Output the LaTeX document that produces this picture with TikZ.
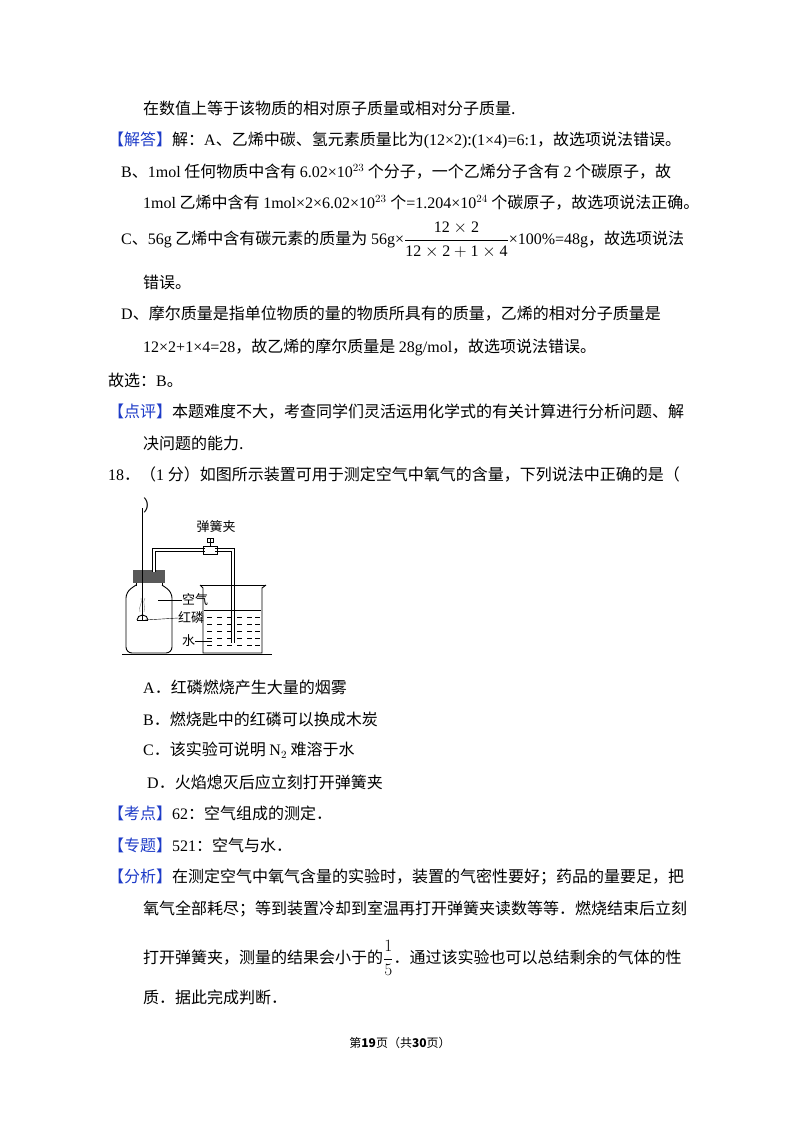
\documentclass[tikz,border=0pt]{standalone}
\usepackage{fontspec}
\setmainfont{Liberation Serif}
\newfontfamily\cjk{Noto Sans CJK SC}
\definecolor{kblue}{RGB}{30,60,200}
\begin{document}
\begin{tikzpicture}[x=1pt,y=-1pt,
  txt/.style={anchor=west,inner sep=0pt,font=\cjk\fontsize{16}{18}\selectfont},
  lbl/.style={inner sep=0pt,font=\cjk\fontsize{13}{15}\selectfont},
  ln/.style={line width=0.9pt}]
\useasboundingbox[fill=white] (0,0) rectangle (800,1132);
\newcommand\kb[1]{\textcolor{kblue}{【#1】}}
\newcommand\lat[1]{{\fontspec{Liberation Serif}#1}}
\node[txt] (l1) at (143,108) {在数值上等于该物质的相对原子质量或相对分子质量.};
\node[txt] (l2) at (108,140) {\kb{解答}解：\lat{A}、乙烯中碳、氢元素质量比为\lat{(12×2)}:\lat{(1×4)=6:1}，故选项说法错误。};
\node[txt] (l3) at (121,172) {\lat{B}、\lat{1mol} 任何物质中含有 \lat{6.02×10$^{23}$} 个分子，一个乙烯分子含有 \lat{2} 个碳原子，故};
\node[txt] (l4) at (143,203) {\lat{1mol} 乙烯中含有 \lat{1mol×2×6.02×10$^{23}$} 个\lat{=1.204×10$^{24}$} 个碳原子，故选项说法正确。};
\node[txt] (l5) at (121,240) {\lat{C}、\lat{56g} 乙烯中含有碳元素的质量为 \lat{56g×}$\displaystyle\frac{\mathrm{12\times 2}}{\mathrm{12\times 2+1\times 4}}$\lat{×100\%=48g}，故选项说法};
\node[txt] (l6) at (143,282) {错误。};
\node[txt] (l7) at (121,314) {\lat{D}、摩尔质量是指单位物质的量的物质所具有的质量，乙烯的相对分子质量是};
\node[txt] (l8) at (143,347) {\lat{12×2+1×4=28}，故乙烯的摩尔质量是 \lat{28g/mol}，故选项说法错误。};
\node[txt] (l9) at (108,380) {故选：\lat{B}。};
\node[txt] (l10) at (108,412) {\kb{点评}本题难度不大，考查同学们灵活运用化学式的有关计算进行分析问题、解};
\node[txt] (l11) at (143,443) {决问题的能力.};
\node[txt] (l12) at (108,475) {\lat{18}．（\lat{1} 分）如图所示装置可用于测定空气中氧气的含量，下列说法中正确的是（};
\node[txt] (l13) at (143,505) {）};
\node[txt] (oA) at (143,687) {\lat{A}．红磷燃烧产生大量的烟雾};
\node[txt] (oB) at (143,719) {\lat{B}．燃烧匙中的红磷可以换成木炭};
\node[txt] (oC) at (143,750) {\lat{C}．该实验可说明 \lat{N$_2$} 难溶于水};
\node[txt] (oD) at (147,782) {\lat{D}．火焰熄灭后应立刻打开弹簧夹};
\node[txt] (k1) at (108,813) {\kb{考点}\lat{62}：空气组成的测定．};
\node[txt] (k2) at (108,845) {\kb{专题}\lat{521}：空气与水．};
\node[txt] (k3) at (108,877) {\kb{分析}在测定空气中氧气含量的实验时，装置的气密性要好；药品的量要足，把};
\node[txt] (k4) at (143,909) {氧气全部耗尽；等到装置冷却到室温再打开弹簧夹读数等等．燃烧结束后立刻};
\node[txt] (k5) at (143,958) {打开弹簧夹，测量的结果会小于的$\displaystyle\frac{1}{5}$．通过该实验也可以总结剩余的气体的性};
\node[txt] (k6) at (143,997) {质．据此完成判断．};
\node[inner sep=0pt,font=\cjk\fontsize{12}{14}\selectfont] (pg) at (400,1043) {第\textbf{19}页（共\textbf{30}页）};
% apparatus
\draw[ln] (122,654) -- (272,654);
\draw[ln,rounded corners=6pt] (136,585) -- (126,592) -- (126,653) -- (172,653) -- (172,592) -- (162,585);
\fill[gray!70!black] (133,570) rectangle (165,583);
\draw[ln] (136,583) -- (136,586) (162,583) -- (162,586);
\draw[ln] (142,508) -- (142,620);
\draw[ln] (137,620) arc (180:360:5.5 and 5);
\draw[ln] (137,620) -- (148,620);
\draw[gray] (140,612) .. controls (138,606) and (143,604) .. (141,598) (144,612) .. controls (146,606) and (142,603) .. (145,598);
\draw[ln,double=white,double distance=2pt] (154,572) -- (154,550) -- (233,550) -- (233,643);
\fill[white] (205,546) rectangle (215,554);
\draw[ln] (203,546) rectangle (217,554);
\draw[ln] (210,546) -- (210,538);
\draw[ln] (207,538) rectangle (213,542);
\node[lbl] (clip) at (216,527) {弹簧夹};
\draw[ln] (200,585) -- (203,588) -- (203,653) -- (262,653) -- (262,588) -- (266,585);
\draw[ln] (200,585) -- (266,585);
\draw (204,610) -- (261,610);
\foreach \yy in {617,624,631,638,645} \foreach \xx in {207,217,227,237,247,255} \draw (\xx,\yy) -- (\xx+5,\yy);
\node[lbl,anchor=west] (air) at (182,600) {空气};
\node[lbl,anchor=west] (p) at (178,618) {红磷};
\node[lbl,anchor=west] (w) at (182,641) {水};
\draw (158,600) -- (air.west);
\draw (145,620) -- (p.west);
\draw (w.east) -- (212,641);
\end{tikzpicture}
\end{document}
